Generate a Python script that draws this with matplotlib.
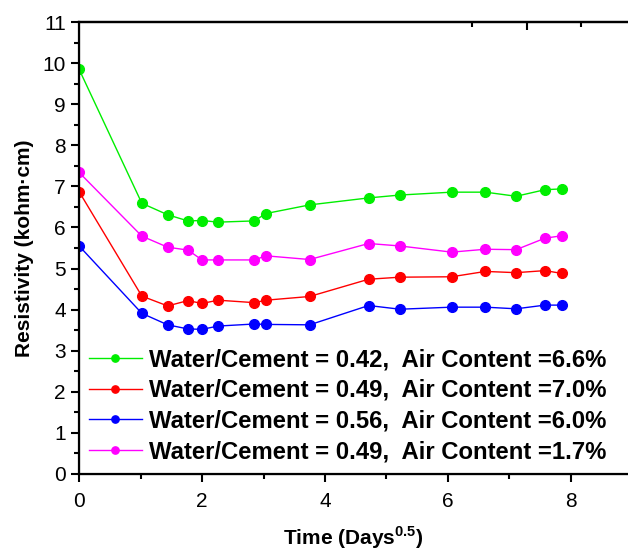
import matplotlib
matplotlib.use("Agg")
import matplotlib.pyplot as plt
from matplotlib.ticker import MultipleLocator

plt.rcParams["font.family"] = ["Liberation Sans", "DejaVu Sans"]

# time axis, square root of days
t = [0.0, 1.02, 1.44, 1.77, 2.0, 2.26, 2.85, 3.04, 3.75, 4.71, 5.22, 6.06, 6.61, 7.11, 7.58, 7.86]

wc042_ac66 = [9.85, 6.59, 6.31, 6.16, 6.17, 6.13, 6.16, 6.34, 6.55, 6.72, 6.79, 6.86, 6.86, 6.76, 6.92, 6.94]
wc049_ac70 = [6.87, 4.33, 4.09, 4.22, 4.15, 4.23, 4.17, 4.23, 4.32, 4.74, 4.79, 4.80, 4.93, 4.90, 4.95, 4.88]
wc056_ac60 = [5.55, 3.91, 3.63, 3.53, 3.52, 3.60, 3.65, 3.64, 3.63, 4.10, 4.01, 4.06, 4.06, 4.02, 4.11, 4.11]
wc049_ac17 = [7.34, 5.79, 5.52, 5.45, 5.21, 5.21, 5.21, 5.31, 5.22, 5.61, 5.55, 5.40, 5.47, 5.46, 5.74, 5.80]

series = [
    (wc042_ac66, "#00ee00", "Water/Cement = 0.42,  Air Content =6.6%"),
    (wc049_ac70, "#ff0000", "Water/Cement = 0.49,  Air Content =7.0%"),
    (wc056_ac60, "#0000ff", "Water/Cement = 0.56,  Air Content =6.0%"),
    (wc049_ac17, "#ff00ff", "Water/Cement = 0.49,  Air Content =1.7%"),
]

fig = plt.figure(figsize=(6.28, 5.53), dpi=100)
ax = fig.add_axes([0.126, 0.143, 0.874, 0.817])

for values, color, label in series:
    ax.plot(t, values, "-o", color=color, lw=1.0, ms=7, label=label)

ax.set_xlim(0, 8.93)
ax.set_ylim(0, 11)
ax.xaxis.set_major_locator(MultipleLocator(2))
ax.xaxis.set_minor_locator(MultipleLocator(1))
ax.yaxis.set_major_locator(MultipleLocator(1))
ax.yaxis.set_minor_locator(MultipleLocator(0.5))
ax.tick_params(which="both", direction="out", width=1.5, labelsize=15)
ax.tick_params(which="major", length=6)
ax.tick_params(which="minor", length=3.5)
ax.tick_params(axis="x", which="major", pad=7)

for side in ["left", "bottom", "top"]:
    ax.spines[side].set_linewidth(1.6)
ax.spines["right"].set_visible(False)

# top frame carries its own short inward ticks
top = ax.twiny()
top.set_xlim(0, 8.93)
top.set_xticks([7.28])
top.set_xticks([6.39, 8.16], minor=True)
top.tick_params(which="both", direction="in", width=1.5, labeltop=False)
top.tick_params(which="major", length=6)
top.tick_params(which="minor", length=3.5)
top.spines["right"].set_visible(False)
top.spines["top"].set_linewidth(1.6)

ax.set_xlabel("Time (Days$^{\\mathregular{0.5}}$)", fontsize=15, fontweight="bold", labelpad=10)
ax.set_ylabel("Resistivity (kohm·cm)", fontsize=15, fontweight="bold", labelpad=6)

leg = ax.legend(loc="lower left", bbox_to_anchor=(-0.008, -0.008), frameon=False,
                prop={"size": 17.2, "weight": "bold"}, handlelength=2.2,
                labelspacing=0.32, handletextpad=0.3, borderaxespad=0.2,
                markerscale=0.75)

fig.savefig("out.png", dpi=100)
